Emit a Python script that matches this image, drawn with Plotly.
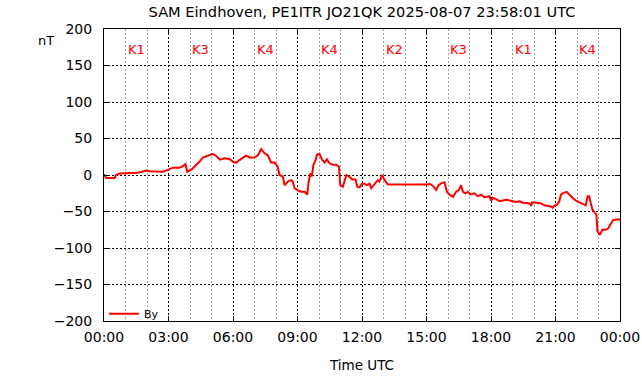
import plotly.graph_objects as go

# Time of day in hours (UTC) and By component in nT
hours = [0.0, 0.1, 0.49, 0.57, 0.72, 0.95, 1.03, 1.19, 1.34, 1.57, 1.73, 1.96, 2.12, 2.35, 2.74,
         2.89, 3.05, 3.2, 3.51, 3.67, 3.79, 3.87, 3.98, 4.13, 4.29, 4.44, 4.6, 4.78, 5.06, 5.22,
         5.4, 5.6, 5.84, 6.0, 6.15, 6.3, 6.46, 6.61, 6.77, 7.0, 7.16, 7.31, 7.46, 7.62, 7.77,
         7.93, 8.08, 8.16, 8.32, 8.4, 8.55, 8.71, 8.78, 8.86, 9.01, 9.17, 9.33, 9.45, 9.51, 9.59,
         9.67, 9.74, 9.84, 9.91, 10.02, 10.15, 10.26, 10.37, 10.49, 10.65, 10.8, 10.93, 10.99,
         11.11, 11.27, 11.39, 11.55, 11.7, 11.78, 11.89, 12.0, 12.11, 12.22, 12.35, 12.43, 12.54,
         12.66, 12.74, 12.81, 12.94, 13.05, 13.2, 15.06, 15.14, 15.3, 15.45, 15.56, 15.68, 15.84,
         15.95, 16.07, 16.23, 16.38, 16.5, 16.61, 16.69, 16.81, 16.92, 17.04, 17.23, 17.38, 17.54,
         17.69, 17.85, 17.93, 18.0, 18.09, 18.24, 18.4, 18.55, 18.71, 18.86, 19.02, 19.17, 19.33,
         19.48, 19.64, 19.79, 19.87, 19.91, 20.1, 20.33, 20.48, 20.64, 20.79, 20.87, 20.95, 21.07,
         21.18, 21.25, 21.36, 21.52, 21.64, 21.8, 21.95, 22.1, 22.26, 22.41, 22.49, 22.57, 22.64,
         22.72, 22.84, 22.9, 22.95, 23.06, 23.18, 23.33, 23.46, 23.57, 23.67, 23.8, 23.95, 24.0]
by_nT = [1, -4, -4, 0, 2, 2, 3, 2, 3, 3, 4, 6, 5, 4.5, 4.5,
         6, 8, 10, 10, 12, 15, 4.5, 6, 9, 14, 18, 24, 26, 29, 26,
         21, 23, 22, 18, 17, 20.5, 23, 26.5, 24, 24, 27, 35.6, 30, 27, 17,
         17, 11.4, 0, -2, -14, -9, -7, -9, -18, -21, -23, -23, -27, -11, 2,
         -2, 14, 20.5, 28, 29, 20.5, 17, 21.5, 16, 14, 14, 11.4, -14,
         -16, 0, -2, -6, -6, -16, -17, -12, -12, -14, -12, -18, -14,
         -11, -7, -9, 0, -7, -13, -13, -12, -15, -20.5, -14, -11.4, -10,
         -23, -27, -30, -23, -20.5, -14, -23, -25, -23, -26.5, -25, -29, -27,
         -30.5, -30, -29, -35, -31.5, -33, -36, -35, -34, -35, -36, -37, -36,
         -38, -38.4, -39, -42, -37.4, -38, -39, -41.5, -42, -43, -45, -42, -40.6,
         -36, -27, -24.7, -23, -27, -31.5, -35, -37, -39, -41.5, -29, -29, -38.4,
         -47.5, -52, -54, -77, -82, -75, -75, -72.6, -66, -62, -61, -61, -61]

# K index per 3-hour block
k_labels = ["K1", "K3", "K4", "K4", "K2", "K3", "K1", "K4"]
k_centers = [1.5, 4.5, 7.5, 10.5, 13.5, 16.5, 19.5, 22.5]

x_tickvals = [0, 3, 6, 9, 12, 15, 18, 21, 24]
x_ticktext = ["00:00", "03:00", "06:00", "09:00", "12:00", "15:00", "18:00", "21:00", "00:00"]
y_tickvals = [200, 150, 100, 50, 0, -50, -100, -150, -200]

title_text = "SAM Eindhoven, PE1ITR JO21QK 2025-08-07 23:58:01 UTC"
FONT = "DejaVu Sans"

fig = go.Figure()
fig.add_trace(go.Scatter(x=hours, y=by_nT, mode="lines", name="By",
                         line=dict(color="#ff0000", width=2)))

for lab, xc in zip(k_labels, k_centers):
    fig.add_annotation(x=xc, y=172, xref="x", yref="y", text=lab, showarrow=False,
                       font=dict(family=FONT, size=13, color="#ff0000"))

fig.add_annotation(xref="paper", yref="paper", x=(46 - 104) / 516, y=(321 - 40) / 292,
                   text="nT", showarrow=False, xanchor="center", yanchor="middle",
                   font=dict(family=FONT, size=13, color="black"))

axis_common = dict(showline=True, linecolor="black", linewidth=1, mirror="ticks",
                   ticks="inside", ticklen=5, tickcolor="black", automargin=False,
                   showgrid=True, gridcolor="black", griddash="2px,2px", gridwidth=1,
                   zeroline=False, tickfont=dict(family=FONT, size=14, color="black"))

fig.update_xaxes(range=[0, 24], tickvals=x_tickvals, ticktext=x_ticktext,
                 minor=dict(dtick=1, tick0=0, showgrid=True, gridcolor="#a0a0a0",
                            griddash="2px,2px", gridwidth=1, ticks=""),
                 title=dict(text="Time UTC", font=dict(family=FONT, size=13.5, color="black"),
                            standoff=16),
                 ticklabelstandoff=3,
                 **axis_common)
fig.update_yaxes(range=[-200, 200], tickvals=y_tickvals, ticklabelstandoff=8, **axis_common)

fig.update_layout(
    width=642, height=376,
    margin=dict(l=104, r=22, t=29, b=55),
    paper_bgcolor="white", plot_bgcolor="white",
    font=dict(family=FONT, size=13, color="black"),
    title=dict(text=title_text, x=0.5, xref="paper", y=1 - 12 / 376, yref="container",
               xanchor="center", yanchor="middle",
               font=dict(family=FONT, size=14.6, color="black")),
    showlegend=True,
    legend=dict(x=0.0, y=-0.025, xanchor="left", yanchor="bottom", bgcolor="rgba(0,0,0,0)",
                font=dict(family=FONT, size=11, color="black"), itemwidth=30,
                borderwidth=0),
)

fig.write_html("out.html", config={"displayModeBar": False},
               post_script="document.body.style.margin='0';")
